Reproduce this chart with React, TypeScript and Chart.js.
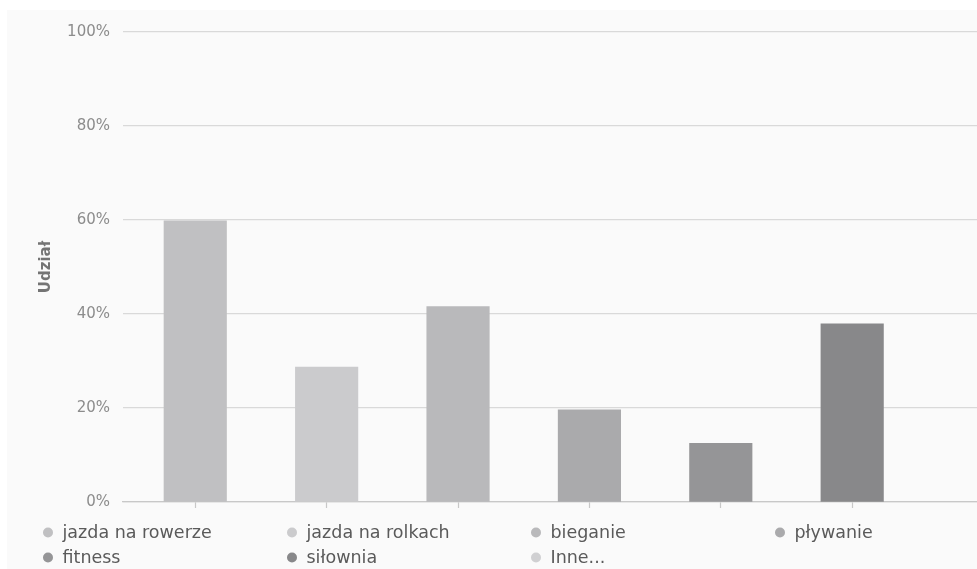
import { useEffect, useRef } from "react";
import { Chart, registerables } from "chart.js";

Chart.register(...registerables);

// Activity categories, in legend order
const categories = [
  "jazda na rowerze",
  "jazda na rolkach",
  "bieganie",
  "pływanie",
  "fitness",
  "siłownia",
  "Inne...",
];

// Share of respondents per activity (%)
const shares: (number | null)[] = [59.8, 28.7, 41.6, 19.6, 12.5, 37.9, null];

const barColors = [
  "#c0c0c2",
  "#cbcbcd",
  "#b9b9bb",
  "#aaaaac",
  "#959597",
  "#88888a",
  "#d0d0d2",
];

const yTicks = [0, 20, 40, 60, 80, 100];
const yTitle = "Udział";

const FONT = "'DejaVu Sans', 'Liberation Sans', sans-serif";

// Legend laid out in a fixed four-column grid under the plot
const gridLegend = {
  id: "gridLegend",
  afterDraw(chart: any) {
    const { ctx, chartArea } = chart;
    ctx.save();
    ctx.font = `17.5px ${FONT}`;
    ctx.textBaseline = "alphabetic";
    ctx.textAlign = "left";
    categories.forEach((name, i) => {
      const col = i % 4;
      const row = Math.floor(i / 4);
      const cx = 41 + col * 244;
      const cy = chartArea.bottom + 31 + row * 25;
      ctx.fillStyle = barColors[i];
      ctx.beginPath();
      ctx.arc(cx, cy - 0.5, 5, 0, Math.PI * 2);
      ctx.fill();
      ctx.fillStyle = "#5a5a5a";
      ctx.fillText(name, cx + 14.5, cy + 5);
    });
    ctx.restore();
  },
};

export default function App() {
  const canvasRef = useRef<HTMLCanvasElement | null>(null);

  useEffect(() => {
    if (!canvasRef.current) return;
    const chart = new Chart(canvasRef.current, {
      type: "bar",
      data: {
        datasets: [
          {
            label: yTitle,
            data: shares.map((v, i) => ({ x: i, y: v })) as any,
            backgroundColor: barColors,
            borderWidth: 0,
            barThickness: 62.5,
          },
        ],
      },
      options: {
        responsive: false,
        animation: false,
        layout: { padding: { top: 22, bottom: 61, left: 0, right: 0 } },
        plugins: {
          legend: { display: false },
          tooltip: { enabled: false },
        },
        scales: {
          x: {
            type: "linear",
            min: -0.55,
            max: 5.95,
            offset: false,
            afterBuildTicks: (scale: any) => {
              scale.ticks = categories
                .map((_, i) => ({ value: i }))
                .filter((t) => t.value >= scale.min && t.value <= scale.max);
            },
            ticks: { display: false },
            grid: {
              offset: false,
              drawOnChartArea: false,
              drawTicks: true,
              tickLength: 6,
              tickColor: "#c8c8c8",
              tickWidth: 1.2,
            },
            border: { display: true, color: "#c8c8c8", width: 1.2 },
          },
          y: {
            min: 0,
            max: 100,
            afterBuildTicks: (scale: any) => {
              scale.ticks = yTicks.map((v) => ({ value: v }));
            },
            afterFit: (scale: any) => {
              scale.width = 116;
            },
            ticks: {
              padding: 13,
              color: "#8c8c8c",
              font: { family: FONT, size: 15 },
              callback: (v: any) => `${v}%`,
            },
            grid: {
              drawTicks: false,
              color: "#d9d9d9",
              lineWidth: 1.3,
            },
            border: { display: false },
            title: {
              display: true,
              text: yTitle,
              color: "#747474",
              font: { family: FONT, size: 15, weight: "bold" },
              padding: { top: 30, bottom: 0 },
            },
          },
        },
      },
      plugins: [gridLegend],
    });
    return () => chart.destroy();
  }, []);

  return (
    <div
      style={{
        position: "fixed",
        left: 7,
        top: 10,
        width: 970,
        height: 559,
        background: "#fafafa",
      }}
    >
      <canvas ref={canvasRef} width={970} height={559} />
    </div>
  );
}
